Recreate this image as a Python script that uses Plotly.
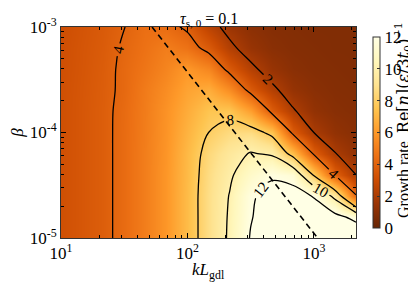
import math
import plotly.graph_objects as go

# ---------------- data ----------------
kL = [10, 14.7, 21.5, 31.6, 46.4, 68.1, 100, 147, 215, 316, 464, 681, 1000, 1468, 2154]
beta = [1e-5, 1.585e-5, 2.512e-5, 3.981e-5, 6.31e-5, 1e-4, 1.585e-4, 2.512e-4, 3.981e-4, 6.31e-4, 1e-3]

# growth rate, one row per beta value (bottom -> top), one column per kL value
growth_rate = [
    [3.15, 3.45, 3.75, 4.30, 5.00, 5.90, 7.20, 8.80, 10.20, 12.10, 13.20, 13.60, 13.80, 13.70, 13.50],
    [3.15, 3.45, 3.75, 4.30, 5.00, 5.90, 7.20, 8.80, 10.15, 11.90, 12.80, 12.90, 12.90, 12.50, 11.50],
    [3.15, 3.45, 3.75, 4.30, 5.00, 5.90, 7.20, 8.80, 10.05, 11.80, 12.50, 12.60, 11.90, 9.50, 4.10],
    [3.15, 3.45, 3.75, 4.30, 5.00, 5.90, 7.15, 8.70, 9.75, 11.00, 11.80, 11.40, 7.80, 3.90, 2.00],
    [3.15, 3.45, 3.75, 4.30, 5.00, 5.85, 7.10, 8.50, 9.35, 10.10, 9.80, 7.40, 3.80, 2.05, 1.30],
    [3.15, 3.45, 3.75, 4.30, 4.97, 5.80, 6.90, 8.00, 8.60, 8.70, 7.60, 3.70, 2.00, 1.30, 1.00],
    [3.15, 3.45, 3.75, 4.28, 4.95, 5.75, 6.65, 7.55, 7.60, 6.20, 3.70, 2.15, 1.30, 1.00, 0.90],
    [3.15, 3.43, 3.73, 4.20, 4.90, 5.55, 6.35, 6.70, 5.60, 3.60, 2.30, 1.40, 1.05, 0.90, 0.85],
    [3.12, 3.40, 3.70, 4.20, 4.70, 5.25, 5.95, 5.30, 3.60, 2.30, 1.45, 1.05, 0.90, 0.85, 0.80],
    [3.10, 3.38, 3.65, 4.12, 4.55, 5.00, 4.60, 3.60, 2.30, 1.45, 1.05, 0.90, 0.85, 0.80, 0.80],
    [3.05, 3.33, 3.60, 3.98, 4.45, 4.35, 3.80, 2.50, 1.60, 1.10, 0.90, 0.85, 0.80, 0.80, 0.80],
]

levels_low = [2, 4]          # contour levels drawn in the first group
levels_high = [8, 10, 12]    # contour levels drawn in the second group

dashed_kL = [52.5, 1070]
dashed_beta = [1e-3, 1e-5]

x_tickvals = [10, 100, 1000]
x_ticktext = ["10<sup>1</sup>", "10<sup>2</sup>", "10<sup>3</sup>"]
y_tickvals = [1e-5, 1e-4, 1e-3]
y_ticktext = ["10<sup>-5</sup>", "10<sup>-4</sup>", "10<sup>-3</sup>"]
cbar_ticks = [0, 2, 4, 6, 8, 10, 12]

# ---------------- styling ----------------
FONT = "Liberation Serif"
colorscale = [
    [0.0, "#662506"], [0.125, "#993404"], [0.25, "#cc4c02"], [0.375, "#ec7014"],
    [0.5, "#fe9929"], [0.625, "#fec44f"], [0.75, "#fee391"], [0.875, "#fff7bc"],
    [1.0, "#ffffe5"],
]

cbar_title = ("Growth rate  <span style='font-family:DejaVu Serif'>"
              "Re[<i>n</i>](<i>ε</i>/3<i>t</i><sub>0</sub>)<sup>−1</sup></span>")

PLOT_L, PLOT_R, PLOT_T, PLOT_B = 53, 348, 19, 230
W, H = 416, 283


def px_to_paper_x(px):
    return (px - PLOT_L) / (PLOT_R - PLOT_L)


def px_to_paper_y(py):
    return (PLOT_B - py) / (PLOT_B - PLOT_T)


fig = go.Figure()

fig.add_trace(go.Contour(
    x=kL, y=beta, z=growth_rate,
    zmin=0, zmax=12, zauto=False,
    colorscale=colorscale,
    contours=dict(coloring="heatmap", showlines=False, start=0, end=12, size=2),
    line=dict(width=0),
    hoverinfo="skip",
    colorbar=dict(
        x=px_to_paper_x(355), xanchor="left", xref="paper",
        y=0.5, yanchor="middle", len=1.0, lenmode="fraction",
        thickness=7, outlinewidth=1, outlinecolor="#333",
        tickvals=cbar_ticks, ticks="inside", ticklen=3, tickcolor="#333",
        tickfont=dict(family=FONT, size=17, color="black"),
    ),
))

for lv in (levels_low, levels_high):
    fig.add_trace(go.Contour(
        x=kL, y=beta, z=growth_rate,
        showscale=False,
        contours=dict(coloring="none", start=lv[0], end=lv[-1], size=2,
                      showlabels=True,
                      labelfont=dict(family=FONT, size=15, color="black")),
        line=dict(color="black", width=1.3, smoothing=1),
        hoverinfo="skip",
    ))

fig.add_trace(go.Scatter(
    x=dashed_kL, y=dashed_beta, mode="lines",
    line=dict(color="black", width=1.6, dash="6px,4px"),
    showlegend=False, hoverinfo="skip",
))

axis_common = dict(
    type="log", ticks="inside", ticklen=5, tickcolor="black",
    showline=True, linecolor="#333", linewidth=1, mirror="ticks",
    showgrid=False, zeroline=False,
    tickfont=dict(family=FONT, size=17, color="black"),
    minor=dict(ticks="inside", ticklen=3, tickcolor="black", dtick="D1", showgrid=False),
)

fig.update_layout(
    width=W, height=H,
    margin=dict(l=PLOT_L, r=W - PLOT_R, t=PLOT_T, b=H - PLOT_B, autoexpand=False),
    paper_bgcolor="white", plot_bgcolor="white",
    font=dict(family=FONT, size=17, color="black"),
    showlegend=False,
    xaxis=dict(axis_common, range=[1, math.log10(2154)],
               tickmode="array", tickvals=x_tickvals, ticktext=x_ticktext),
    yaxis=dict(axis_common, range=[-5, -3],
               tickmode="array", tickvals=y_tickvals, ticktext=y_ticktext,
               title=dict(text="<i>β</i>", standoff=2,
                          font=dict(family=FONT, size=17))),
    annotations=[
        dict(text="<i>τ</i><sub>s, 0</sub> = 0.1", xref="paper", yref="paper",
             x=0.5, y=px_to_paper_y(11), xanchor="center", yanchor="middle",
             showarrow=False, font=dict(family=FONT, size=16, color="black")),
        dict(text="<i>kL</i><sub>gdl</sub>", xref="paper", yref="paper",
             x=0.5, y=px_to_paper_y(263), xanchor="center", yanchor="middle",
             showarrow=False, font=dict(family=FONT, size=17, color="black")),
        dict(text=cbar_title, xref="paper", yref="paper",
             x=px_to_paper_x(395), y=px_to_paper_y(112),
             xanchor="center", yanchor="middle",
             textangle=-90, showarrow=False,
             font=dict(family=FONT, size=16, color="black")),
    ],
)

fig.write_html("out.html")
